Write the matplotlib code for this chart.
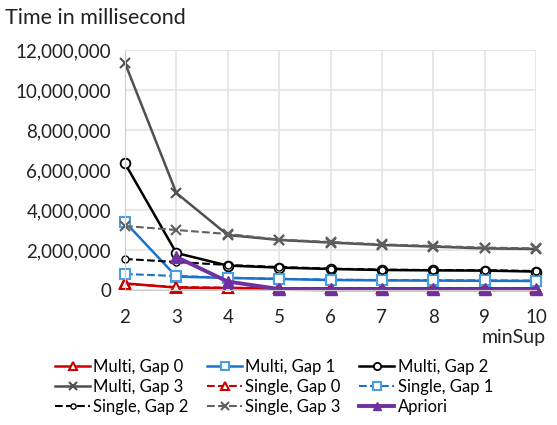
import numpy as np
import matplotlib.pyplot as plt
from matplotlib.ticker import FuncFormatter

plt.rcParams['font.family'] = ['Lato', 'DejaVu Sans']

min_sup = [2, 3, 4, 5, 6, 7, 8, 9, 10]

multi_gap0 = [330000, 120000, 100000, 80000, 80000, 80000, 80000, 80000, 80000]
multi_gap1 = [3400000, 670000, 600000, 550000, 500000, 480000, 470000, 460000, 450000]
multi_gap2 = [6330000, 1850000, 1220000, 1120000, 1050000, 1000000, 980000, 970000, 920000]
multi_gap3 = [11350000, 4850000, 2750000, 2500000, 2370000, 2250000, 2170000, 2080000, 2050000]
single_gap0 = [300000, 150000, 110000, 90000, 90000, 90000, 90000, 90000, 90000]
single_gap1 = [800000, 700000, 620000, 560000, 520000, 500000, 490000, 480000, 470000]
single_gap2 = [1550000, 1400000, 1250000, 1150000, 1070000, 1020000, 1000000, 990000, 950000]
single_gap3 = [3200000, 3000000, 2800000, 2520000, 2400000, 2280000, 2200000, 2120000, 2080000]
apriori_x = [3, 4, 5, 6, 7, 8, 9, 10]
apriori = [1650000, 420000, 50000, 30000, 30000, 30000, 30000, 30000]

fig = plt.figure(figsize=(5.57, 4.25), dpi=100)
ax = fig.add_axes([125 / 557, 1 - 290 / 425, 411 / 557, 240 / 425])

ms = 7
ax.plot(min_sup, multi_gap0, color='#cc0000', lw=1.8, marker='^', ms=ms, mfc='white', mec='#cc0000', mew=1.5, label='Multi, Gap 0')
ax.plot(min_sup, multi_gap1, color='#1a73c8', lw=1.8, marker='s', ms=ms, mfc='white', mec='#4a9ee0', mew=1.5, label='Multi, Gap 1')
ax.plot(min_sup, multi_gap2, color='black', lw=1.8, marker='o', ms=ms, mfc='white', mec='black', mew=1.3, label='Multi, Gap 2')
ax.plot(min_sup, multi_gap3, color='#505050', lw=1.8, marker='x', ms=ms, mec='#505050', mew=1.5, label='Multi, Gap 3')
ax.plot(min_sup, single_gap0, color='#cc0000', lw=1.5, ls='--', marker='^', ms=ms, mfc='white', mec='#cc0000', mew=1.5, label='Single, Gap 0')
ax.plot(min_sup, single_gap1, color='#1a73c8', lw=1.5, ls='--', marker='s', ms=ms, mfc='white', mec='#4a9ee0', mew=1.5, label='Single, Gap 1')
ax.plot(min_sup, single_gap2, color='black', lw=1.5, ls='--', marker='o', ms=5, mfc='white', mec='black', mew=1.0, label='Single, Gap 2')
ax.plot(min_sup, single_gap3, color='#606060', lw=1.5, ls='--', marker='x', ms=ms, mec='#606060', mew=1.5, label='Single, Gap 3')
ax.plot(apriori_x, apriori, color='#7030a0', lw=2.8, marker='^', ms=8, mfc='#7030a0', mec='#7030a0', label='Apriori')

ax.set_xlim(2, 10)
ax.set_ylim(0, 12000000)
ax.set_xticks(min_sup)
ax.set_yticks(np.arange(0, 12000001, 2000000))
ax.yaxis.set_major_formatter(FuncFormatter(lambda v, p: f'{int(v):,}'))
ax.tick_params(length=0, labelsize=13.5, colors='#222222', pad=10)
ax.tick_params(axis='x', pad=14)
ax.grid(True, color='#e3e3e3', lw=1.2)
ax.set_axisbelow(True)
for s in ['top', 'right']:
    ax.spines[s].set_visible(False)
ax.spines['left'].set_color('#cccccc')
ax.spines['bottom'].set_color('#cccccc')
for ln in ax.lines:
    ln.set_clip_on(False)

fig.text(5 / 557, 1 - 18 / 425, 'Time in millisecond', fontsize=15.5, va='center', ha='left', color='#222222')
fig.text(546 / 557, 1 - 338 / 425, 'minSup', fontsize=14, va='center', ha='right', color='#222222')

# legend filled row by row, like the original
handles, labels = ax.get_legend_handles_labels()
order = [0, 3, 6, 1, 4, 7, 2, 5, 8]
fig.legend([handles[i] for i in order], [labels[i] for i in order],
           loc='center', bbox_to_anchor=(274 / 557, 1 - 387 / 425), ncol=3, frameon=False,
           fontsize=12, handlelength=2.1, handletextpad=0.2, columnspacing=1.1, labelspacing=0.25,
           markerscale=0.75)

plt.savefig('out.png', dpi=100)
